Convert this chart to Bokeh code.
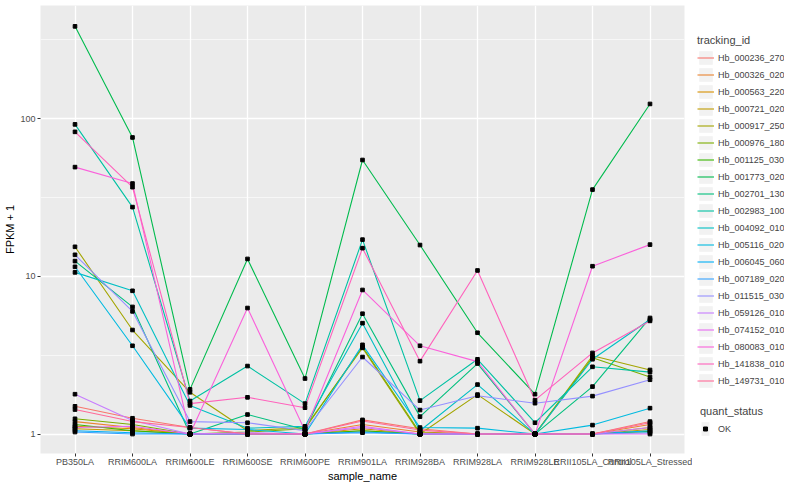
import math
from bokeh.plotting import figure
from bokeh.layouts import row
from bokeh.models import (Range1d, FixedTicker, PrintfTickFormatter, Legend,
                          LegendItem)
from bokeh.embed import file_html
from bokeh.resources import INLINE

samples = ["PB350LA", "RRIM600LA", "RRIM600LE", "RRIM600SE", "RRIM600PE",
           "RRIM901LA", "RRIM928BA", "RRIM928LA", "RRIM928LE",
           "RRII105LA_Control", "RRII105LA_Stressed"]

tracking_ids = ["Hb_000236_270", "Hb_000326_020", "Hb_000563_220", "Hb_000721_020",
                "Hb_000917_250", "Hb_000976_180", "Hb_001125_030", "Hb_001773_020",
                "Hb_002701_130", "Hb_002983_100", "Hb_004092_010", "Hb_005116_020",
                "Hb_006045_060", "Hb_007189_020", "Hb_011515_030", "Hb_059126_010",
                "Hb_074152_010", "Hb_080083_010", "Hb_141838_010", "Hb_149731_010"]

quant_status = ["OK"]

y_ticks = [1, 10, 100]
y_minor = [0.316, 3.162, 31.62, 316.2]

# FPKM + 1 per sample (order of `samples`)
Hb_000236_270 = [1.5, 1.26, 1.1, 1.0, 1.0, 1.23, 1.08, 1.0, 1.0, 1.0, 1.2]
Hb_000326_020 = [1.2, 1.1, 1.0, 1.0, 1.0, 1.15, 1.03, 1.0, 1.0, 1.0, 1.15]
Hb_000563_220 = [1.12, 1.08, 1.0, 1.0, 1.0, 1.08, 1.0, 1.0, 1.0, 1.0, 1.1]
Hb_000721_020 = [1.08, 1.05, 1.0, 1.0, 1.0, 1.05, 1.0, 1.0, 1.0, 1.0, 1.07]
Hb_000917_250 = [15.4, 4.57, 1.84, 1.05, 1.1, 3.52, 1.0, 1.78, 1.0, 3.14, 2.55]
Hb_000976_180 = [1.25, 1.15, 1.0, 1.03, 1.08, 3.58, 1.02, 1.0, 1.0, 3.05, 2.3]
Hb_001125_030 = [1.15, 1.05, 1.0, 1.0, 1.0, 1.05, 1.0, 1.0, 1.0, 1.0, 1.04]
Hb_001773_020 = [385, 76, 1.92, 12.9, 2.25, 54.7, 15.8, 4.39, 1.79, 35.5, 124]
Hb_002701_130 = [12.5, 6.4, 1.0, 1.33, 1.07, 5.8, 1.29, 2.8, 1.0, 2.0, 5.45]
Hb_002983_100 = [92, 27.5, 1.62, 2.7, 1.56, 17.1, 1.63, 2.98, 1.18, 2.67, 2.47]
Hb_004092_010 = [10.6, 8.1, 1.52, 1.09, 1.12, 5.05, 1.05, 2.06, 1.0, 2.98, 5.33]
Hb_005116_020 = [11.5, 3.63, 1.09, 1.07, 1.0, 3.68, 1.1, 1.09, 1.0, 1.14, 1.46]
Hb_006045_060 = [1.05, 1.02, 1.0, 1.0, 1.0, 1.03, 1.0, 1.0, 1.0, 1.0, 1.05]
Hb_007189_020 = [1.03, 1.0, 1.0, 1.0, 1.0, 1.02, 1.0, 1.0, 1.0, 1.0, 1.02]
Hb_011515_030 = [13.7, 6.0, 1.2, 1.18, 1.05, 3.08, 1.42, 1.75, 1.57, 1.74, 2.21]
Hb_059126_010 = [1.79, 1.22, 1.0, 1.02, 1.0, 1.1, 1.0, 1.0, 1.0, 1.0, 1.1]
Hb_074152_010 = [1.1, 1.12, 1.0, 1.0, 1.0, 1.12, 1.0, 1.0, 1.0, 1.0, 1.0]
Hb_080083_010 = [49.3, 38.8, 1.0, 6.3, 1.05, 8.2, 3.63, 2.88, 1.0, 11.6, 15.9]
Hb_141838_010 = [82.5, 36.8, 1.56, 1.71, 1.47, 15.1, 2.9, 10.9, 1.64, 3.27, 5.22]
Hb_149731_010 = [1.43, 1.2, 1.1, 1.0, 1.0, 1.21, 1.06, 1.0, 1.0, 1.0, 1.18]

series = {
    "Hb_000236_270": Hb_000236_270, "Hb_000326_020": Hb_000326_020,
    "Hb_000563_220": Hb_000563_220, "Hb_000721_020": Hb_000721_020,
    "Hb_000917_250": Hb_000917_250, "Hb_000976_180": Hb_000976_180,
    "Hb_001125_030": Hb_001125_030, "Hb_001773_020": Hb_001773_020,
    "Hb_002701_130": Hb_002701_130, "Hb_002983_100": Hb_002983_100,
    "Hb_004092_010": Hb_004092_010, "Hb_005116_020": Hb_005116_020,
    "Hb_006045_060": Hb_006045_060, "Hb_007189_020": Hb_007189_020,
    "Hb_011515_030": Hb_011515_030, "Hb_059126_010": Hb_059126_010,
    "Hb_074152_010": Hb_074152_010, "Hb_080083_010": Hb_080083_010,
    "Hb_141838_010": Hb_141838_010, "Hb_149731_010": Hb_149731_010,
}


def hcl_hex(h, c=100.0, l=65.0):
    hr = math.radians(h)
    u = c * math.cos(hr)
    v = c * math.sin(hr)
    Xn, Yn, Zn = 95.047, 100.0, 108.883
    Y = Yn * ((l + 16) / 116) ** 3
    den = Xn + 15 * Yn + 3 * Zn
    un, vn = 4 * Xn / den, 9 * Yn / den
    up = u / (13 * l) + un
    vp = v / (13 * l) + vn
    X = Y * 9 * up / (4 * vp)
    Z = Y * (12 - 3 * up - 20 * vp) / (4 * vp)
    X, Y, Z = X / 100, Y / 100, Z / 100
    rgb = [3.240479 * X - 1.537150 * Y - 0.498535 * Z,
           -0.969256 * X + 1.875992 * Y + 0.041556 * Z,
           0.055648 * X - 0.204043 * Y + 1.057311 * Z]
    out = []
    for ch in rgb:
        ch = 12.92 * ch if ch <= 0.0031308 else 1.055 * ch ** (1 / 2.4) - 0.055
        out.append(int(round(min(max(ch, 0), 1) * 255)))
    return "#%02X%02X%02X" % tuple(out)


n = len(tracking_ids)
palette = [hcl_hex(15 + 360 * i / n) for i in range(n)]
x_idx = list(range(1, len(samples) + 1))

FONT = "Liberation Sans"
TOTAL_W, TOTAL_H = 784, 484
MAIN_W = 692

p = figure(width=MAIN_W, height=TOTAL_H, output_backend="svg", toolbar_location=None,
           y_axis_type="log",
           x_range=Range1d(0.4, len(samples) + 0.6),
           y_range=Range1d(0.753, 522),
           min_border_left=40, min_border_right=8, min_border_top=5,
           min_border_bottom=24)
p.background_fill_color = "#EBEBEB"
p.border_fill_color = "white"
p.outline_line_color = None

p.xaxis.ticker = FixedTicker(ticks=x_idx)
p.xaxis.major_label_overrides = {i: s for i, s in zip(x_idx, samples)}
p.yaxis.ticker = FixedTicker(ticks=y_ticks, minor_ticks=y_minor)
p.yaxis.formatter = PrintfTickFormatter(format="%d")
for ax in (p.xaxis, p.yaxis):
    ax.axis_line_color = None
    ax.major_tick_line_color = "#333333"
    ax.major_tick_in = 0
    ax.major_tick_out = 3
    ax.minor_tick_line_color = None
    ax.major_label_text_font = FONT
    ax.major_label_text_font_size = "9px"
    ax.major_label_text_color = "#4D4D4D"
    ax.major_label_standoff = 1
    ax.axis_label_text_font = FONT
    ax.axis_label_text_font_size = "11px"
    ax.axis_label_text_font_style = "normal"
    ax.axis_label_text_color = "black"
    ax.axis_label_standoff = 1
p.xaxis.major_label_standoff = 0
p.xaxis.axis_label_standoff = 0
p.xaxis.axis_label = "sample_name"
p.yaxis.axis_label = "FPKM + 1"

p.xgrid.ticker = FixedTicker(ticks=x_idx)
p.ygrid.ticker = FixedTicker(ticks=y_ticks, minor_ticks=y_minor)
p.grid.grid_line_color = "white"
p.grid.grid_line_width = 1.3
p.ygrid.minor_grid_line_color = "white"
p.ygrid.minor_grid_line_width = 0.6

for tid, col in zip(tracking_ids, palette):
    p.line(x=x_idx, y=series[tid], line_color=col, line_width=1.1)

px, py = [], []
for tid in tracking_ids:
    px.extend(x_idx)
    py.extend(series[tid])
p.scatter(x=px, y=py, marker="square", size=3.6, color="black")

# ---- legend panel (separate canvas to the right of the plot) ----
lg = figure(width=TOTAL_W - MAIN_W, height=TOTAL_H, output_backend="svg",
            toolbar_location=None, x_range=Range1d(0, 1), y_range=Range1d(0, 1),
            x_axis_location=None, y_axis_location=None, min_border=0)
lg.outline_line_color = None
lg.grid.visible = False
lg.background_fill_color = "white"
lg.border_fill_color = "white"

# legend-only renderers, their single points lie outside the visible range
key_bg = lg.quad(left=[5], right=[6], top=[6], bottom=[5], fill_color="#F2F2F2",
                 line_color=None)
items = []
for tid, col in zip(tracking_ids, palette):
    r = lg.line(x=[5, 6], y=[5, 6], line_color=col, line_width=1.1)
    items.append(LegendItem(label=tid, renderers=[key_bg, r]))
pt_key = lg.scatter(x=[5], y=[5], marker="square", size=3.6, color="black")

leg_common = dict(glyph_height=17, label_height=17, spacing=0,
                  padding=0, margin=0, border_line_color=None,
                  background_fill_alpha=0, label_text_font=FONT,
                  label_text_font_size="9px", title_text_font=FONT,
                  title_text_font_size="11px", title_text_font_style="normal",
                  title_standoff=3)

legend1 = Legend(items=items, title="tracking_id", location=(5, 64),
                 glyph_width=17, label_standoff=4, **leg_common)
legend2 = Legend(items=[LegendItem(label=quant_status[0], renderers=[key_bg, pt_key])],
                 title="quant_status", location=(8, 16),
                 glyph_width=10, label_standoff=8, **leg_common)
lg.add_layout(legend1, "center")
lg.add_layout(legend2, "center")

layout = row(p, lg)
open("out.html", "w").write(file_html(layout, INLINE))
